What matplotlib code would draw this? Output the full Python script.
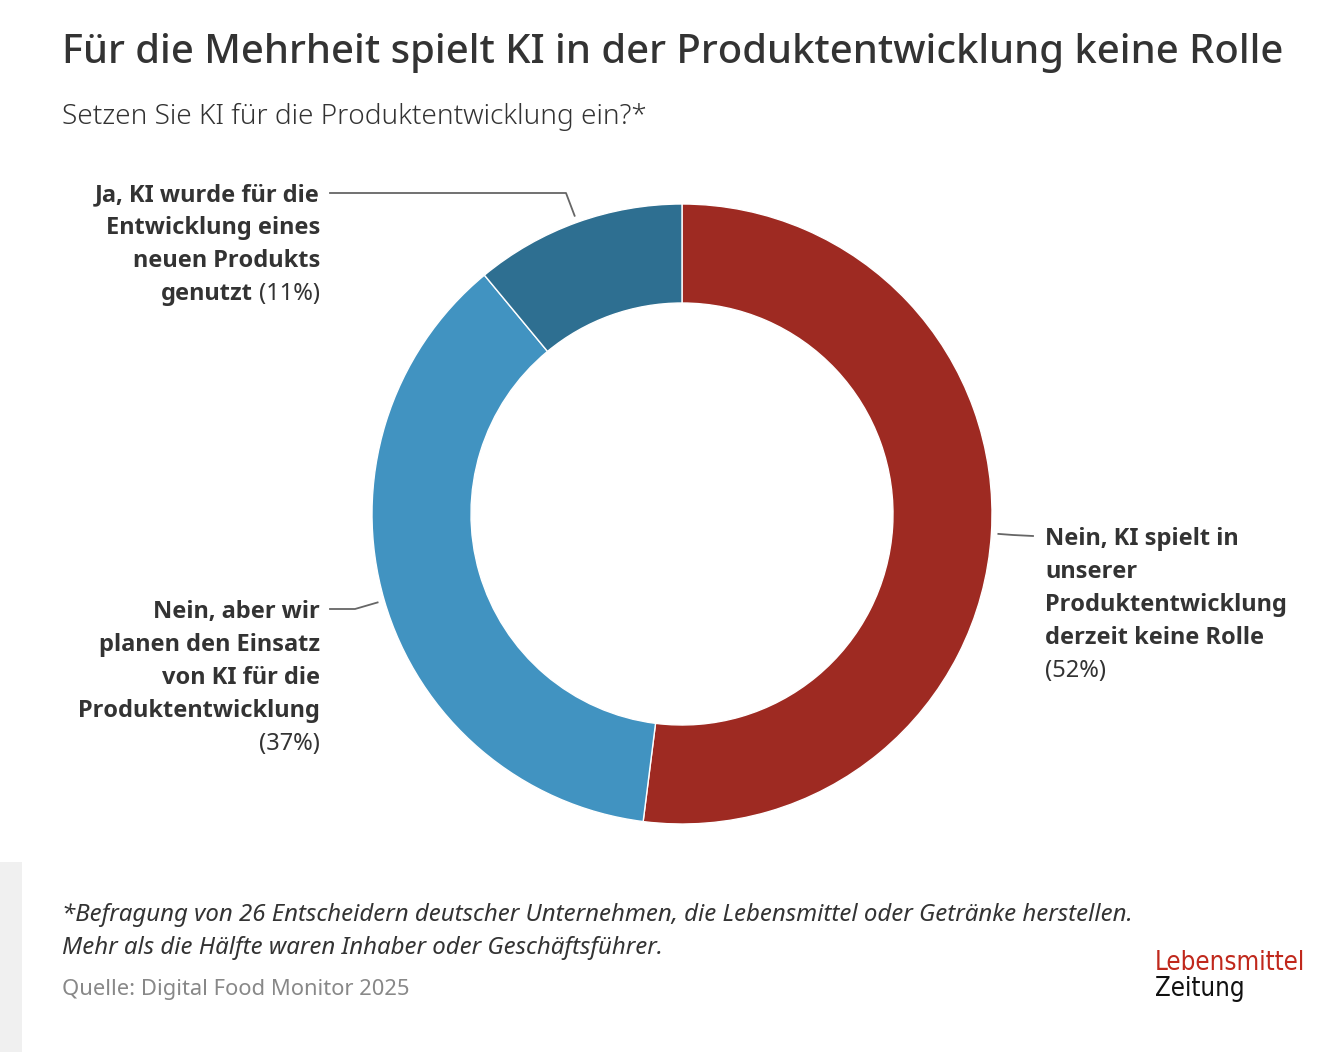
import numpy as np
import matplotlib
matplotlib.use("Agg")
import matplotlib.pyplot as plt
from matplotlib.patches import Rectangle
from matplotlib.lines import Line2D
from matplotlib import font_manager as fm
from matplotlib.font_manager import FontProperties

# ---- data ----
categories = [
    "Nein, KI spielt in unserer Produktentwicklung derzeit keine Rolle",
    "Nein, aber wir planen den Einsatz von KI für die Produktentwicklung",
    "Ja, KI wurde für die Entwicklung eines neuen Produkts genutzt",
]
values = [52, 37, 11]
colors = ["#9e2a22", "#4193c1", "#2e6f91"]
label_lines = [
    ["Nein, KI spielt in", "unserer", "Produktentwicklung", "derzeit keine Rolle"],
    ["Nein, aber wir", "planen den Einsatz", "von KI für die", "Produktentwicklung"],
    ["Ja, KI wurde für die", "Entwicklung eines", "neuen Produkts", "genutzt"],
]
title = "Für die Mehrheit spielt KI in der Produktentwicklung keine Rolle"
subtitle = "Setzen Sie KI für die Produktentwicklung ein?*"
footnote = ["*Befragung von 26 Entscheidern deutscher Unternehmen, die Lebensmittel oder Getränke herstellen.",
            "Mehr als die Hälfte waren Inhaber oder Geschäftsführer."]
source = "Quelle: Digital Food Monitor 2025"

W, H = 1336, 1052
DPI = 100
FONT = "Noto Sans"
TXT = "#333333"

# instantiate static weights of the variable Noto Sans font
base_path = fm.findfont(FontProperties(family=FONT), fallback_to_default=True)
def make_weight(wght, fname):
    try:
        from fontTools.ttLib import TTFont
        from fontTools.varLib import instancer
        f = TTFont(base_path)
        axes = {a.axisTag: a for a in f["fvar"].axes} if "fvar" in f else {}
        loc = {}
        if "wght" in axes:
            loc["wght"] = wght
        if "wdth" in axes:
            loc["wdth"] = 100
        inst = instancer.instantiateVariableFont(f, loc)
        inst["OS/2"].usWeightClass = wght
        inst.save(fname)
        return FontProperties(fname=fname)
    except Exception:
        return None

fp_bold = make_weight(700, "NotoSans-Bold-inst.ttf")
fp_med = make_weight(500, "NotoSans-Medium-inst.ttf")
fp_light = make_weight(300, "NotoSans-Light-inst.ttf")

def props(fp, size, fallback_weight="normal"):
    if fp is not None:
        p = fp.copy()
        p.set_size(size)
        return dict(fontproperties=p)
    return dict(fontsize=size, fontfamily=FONT, fontweight=fallback_weight)

fig = plt.figure(figsize=(W / DPI, H / DPI), dpi=DPI)
fig.patch.set_facecolor("white")

ov = fig.add_axes([0, 0, 1, 1])
ov.set_xlim(0, W)
ov.set_ylim(H, 0)
ov.axis("off")

# donut
cx, cy, R = 682, 514, 310
pie_ax = fig.add_axes([(cx - R) / W, (H - cy - R) / H, 2 * R / W, 2 * R / H])
pie_ax.pie(values, colors=colors, startangle=90, counterclock=False, radius=1,
           wedgeprops=dict(width=99 / R, edgecolor="white", linewidth=1.0))
pie_ax.set_xlim(-1, 1)
pie_ax.set_ylim(-1, 1)
pie_ax.set_aspect("equal")
pie_ax.axis("off")

# title, subtitle
ov.text(62, 53, title, color=TXT, va="center", ha="left", **props(fp_med, 28.8, "medium"))
ov.text(62, 117, subtitle, color=TXT, va="center", ha="left", **props(fp_light, 20.1, "light"))

# leader lines
cum = np.cumsum([0] + values[:-1])
mids = [(c + v / 2) / sum(values) * 2 * np.pi for c, v in zip(cum, values)]
rr = R + 7
anchors = [(cx + np.sin(a) * rr, cy - np.cos(a) * rr) for a in mids]

label_cfg = [
    dict(elbow=(1013, 535), end=(1033, 536), tx=1045, ha="left", y0=539),
    dict(elbow=(355, 609), end=(330, 609), tx=320, ha="right", y0=612),
    dict(elbow=(566, 193), end=(330, 193), tx=320, ha="right", y0=195),
]
LS = 33
LFS = 17
fig.canvas.draw()
renderer = fig.canvas.get_renderer()
inv = ov.transData.inverted()

for i, cfg in enumerate(label_cfg):
    ax0, ay0 = anchors[i]
    ov.add_line(Line2D([ax0, cfg["elbow"][0], cfg["end"][0]],
                       [ay0, cfg["elbow"][1], cfg["end"][1]],
                       color="#666666", lw=1.3))
    lines = label_lines[i]
    pct = f"({values[i]}%)"
    n_bold = len(lines) - 1 if i == 2 else len(lines)
    for j in range(n_bold):
        ov.text(cfg["tx"], cfg["y0"] + j * LS, lines[j], color=TXT, ha=cfg["ha"],
                va="center", **props(fp_bold, LFS, "bold"))
    if i == 2:
        y = cfg["y0"] + (len(lines) - 1) * LS
        t = ov.text(cfg["tx"], y, pct, color=TXT, ha="right", va="center",
                    fontsize=LFS, fontfamily=FONT)
        bb = t.get_window_extent(renderer)
        x_left = inv.transform((bb.x0, bb.y0))[0]
        ov.text(x_left - 6, y, lines[-1], color=TXT, ha="right", va="center",
                **props(fp_bold, LFS, "bold"))
    else:
        y = cfg["y0"] + len(lines) * LS
        ov.text(cfg["tx"], y, pct, color=TXT, ha=cfg["ha"], va="center",
                fontsize=LFS, fontfamily=FONT)

# footer
ov.add_patch(Rectangle((0, 862), 22, H - 862, facecolor="#f0f0f0", edgecolor="none"))
ov.text(62, 915, footnote[0], fontsize=17.3, fontfamily=FONT, fontstyle="italic", color=TXT,
        va="center", ha="left")
ov.text(62, 948, footnote[1], fontsize=17.3, fontfamily=FONT, fontstyle="italic", color=TXT,
        va="center", ha="left")
ov.text(62, 990, source, fontsize=15.8, fontfamily=FONT, color="#888888", va="center", ha="left")

# logo
ov.text(1155, 963, "Lebensmittel", fontsize=18.5, fontfamily="DejaVu Sans", fontstretch="condensed",
        color="#c0281c", va="center", ha="left")
ov.text(1155, 989, "Zeitung", fontsize=18.5, fontfamily="DejaVu Sans", fontstretch="condensed",
        color="#111111", va="center", ha="left")

fig.savefig("out.png", dpi=DPI, facecolor="white")
